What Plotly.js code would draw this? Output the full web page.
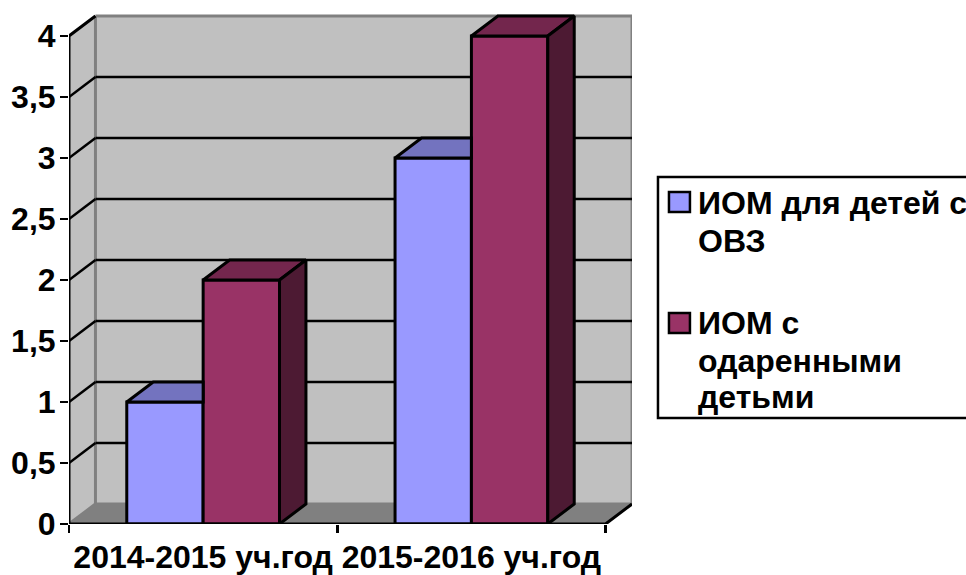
<!DOCTYPE html>
<html>
<head>
<meta charset="utf-8">
<script src="https://cdn.plot.ly/plotly-3.0.1.min.js"></script>
<style>html,body{margin:0;padding:0;background:#fff;overflow:hidden}</style>
</head>
<body>
<div id="chart" style="width:966px;height:575px"></div>
<script>
const categories = ['2014-2015 уч.год', '2015-2016 уч.год'];
const seriesOvz = [1, 3];
const seriesGifted = [2, 4];
const yTicks = [0, 0.5, 1, 1.5, 2, 2.5, 3, 3.5, 4];
const yTickText = ['0', '0,5', '1', '1,5', '2', '2,5', '3', '3,5', '4'];
const legendLines = ['ИОМ для детей с', 'ОВЗ', 'ИОМ с', 'одаренными', 'детьми'];
const legendLineY = [203, 241, 323, 361, 397];

const W = 966, H = 575;
const mL = 68.5, mR = 334, mT = 14, mB = 51;
const FONT = '"Liberation Sans", Arial, sans-serif';
const FS = 32;
const catPx = 268.75, unitPx = 122;
const dx = 26.5 / catPx, dy = 20 / unitPx;
const barW = 76.5 / catPx;
const xMin = -0.5, xEnd = 1.5, yTop = 4;
const xMax = xEnd + dx, yMax = (H - mT - mB) / unitPx;
const idx = categories.map((_, i) => i);

const colors = {
  blue: '#9999FF', blueTop: '#7373BF',
  red: '#993366', redTop: '#73264D', redSide: '#4D1A33',
  wall: '#C0C0C0', floor: '#808080'
};

function poly(xs, ys, fill) {
  return {type: 'scatter', mode: 'lines', x: xs, y: ys, fill: 'toself', fillcolor: fill,
    line: {color: '#000', width: 3, shape: 'linear'}, showlegend: false, hoverinfo: 'skip', cliponaxis: false};
}

const traces = [
  {type: 'bar', name: 'ИОМ для детей с ОВЗ', x: idx, y: seriesOvz, marker: {color: colors.blue, line: {color: '#000', width: 3}}, showlegend: false},
  {type: 'bar', name: 'ИОМ с одаренными детьми', x: idx, y: seriesGifted, marker: {color: colors.red, line: {color: '#000', width: 3}}, showlegend: false}
];

idx.forEach(i => {
  const v1 = seriesOvz[i], v2 = seriesGifted[i];
  const l = i - barW, m = i, r = i + barW;
  traces.push(poly([l, l + dx, m, m, l], [v1, v1 + dy, v1 + dy, v1, v1], colors.blueTop));
  traces.push(poly([m, m + dx, r + dx, r, m], [v2, v2 + dy, v2 + dy, v2, v2], colors.redTop));
  traces.push(poly([r, r + dx, r + dx, r, r], [0, dy, v2 + dy, v2, 0], colors.redSide));
});

// Axis frame: left edge, top-left diagonal, front edge, right diagonal
traces.push({type: 'scatter', mode: 'lines',
  x: [xMin + dx, xMin, xMin, xEnd, xEnd + dx],
  y: [yTop + dy, yTop, 0, 0, dy],
  line: {color: '#000', width: 3}, showlegend: false, hoverinfo: 'skip', cliponaxis: false});

const shapes = [];
function polyPath(pts) { return 'M' + pts.map(p => p[0] + ',' + p[1]).join('L') + 'Z'; }
// back wall
shapes.push({type: 'path', layer: 'below', xref: 'x', yref: 'y',
  path: polyPath([[xMin + dx, dy], [xMax, dy], [xMax, yTop + dy], [xMin + dx, yTop + dy]]),
  fillcolor: colors.wall, line: {width: 0}});
// left wall
shapes.push({type: 'path', layer: 'below', xref: 'x', yref: 'y',
  path: polyPath([[xMin, 0], [xMin + dx, dy], [xMin + dx, yTop + dy], [xMin, yTop]]),
  fillcolor: colors.wall, line: {width: 0}});
// floor
shapes.push({type: 'path', layer: 'below', xref: 'x', yref: 'y',
  path: polyPath([[xMin, 0], [xEnd, 0], [xMax, dy], [xMin + dx, dy]]),
  fillcolor: colors.floor, line: {width: 0}});
// grey wall edges
[[xMin + dx, dy, xMin + dx, yTop + dy], [xMin + dx, yTop + dy, xMax, yTop + dy], [xMax, dy, xMax, yTop + dy], [xMin + dx, dy, xMax, dy], [xMin, 0, xMin + dx, dy]]
  .forEach(s => shapes.push({type: 'line', layer: 'below', xref: 'x', yref: 'y', x0: s[0], y0: s[1], x1: s[2], y1: s[3],
    line: {color: '#808080', width: 3}}));
// gridlines
yTicks.filter(v => v > 0 && v < yTop).forEach(v => {
  shapes.push({type: 'line', layer: 'below', xref: 'x', yref: 'y', x0: xMin + dx, x1: xMax, y0: v + dy, y1: v + dy, line: {color: '#000', width: 2.5}});
  shapes.push({type: 'line', layer: 'below', xref: 'x', yref: 'y', x0: xMin, x1: xMin + dx, y0: v, y1: v + dy, line: {color: '#000', width: 2.5}});
});

// Legend, placed in page pixels
const plotW = W - mL - mR, plotH = H - mT - mB;
const px = x => (x - mL) / plotW;
const py = y => 1 - (y - mT) / plotH;
shapes.push({type: 'rect', layer: 'above', xref: 'paper', yref: 'paper', x0: px(658), x1: px(980), y0: py(177), y1: py(418),
  fillcolor: '#fff', line: {color: '#000', width: 2.5}});
shapes.push({type: 'rect', layer: 'above', xref: 'paper', yref: 'paper', x0: px(669), x1: px(690), y0: py(192), y1: py(212),
  fillcolor: colors.blue, line: {color: '#000', width: 2.5}});
shapes.push({type: 'rect', layer: 'above', xref: 'paper', yref: 'paper', x0: px(669), x1: px(690), y0: py(313), y1: py(333),
  fillcolor: colors.red, line: {color: '#000', width: 2.5}});

const legendFont = {family: FONT, size: FS, color: '#000', weight: 700};
const annotations = legendLines.map((t, i) => ({
  xref: 'paper', yref: 'paper', x: px(696), y: py(legendLineY[i]), xanchor: 'left', yanchor: 'middle', align: 'left',
  showarrow: false, text: t, font: legendFont
}));

const layout = {
  width: W, height: H,
  margin: {l: mL, r: mR, t: mT, b: mB, pad: 0},
  paper_bgcolor: '#fff', plot_bgcolor: 'rgba(0,0,0,0)',
  showlegend: false,
  barmode: 'group', bargap: 1 - 2 * barW, bargroupgap: 0,
  xaxis: {
    range: [xMin, xMax], tickvals: idx, ticktext: categories, ticks: '', showgrid: false, zeroline: false, showline: false,
    tickfont: {family: FONT, size: FS, color: '#000', weight: 700}, tickangle: 0, ticklabelstandoff: 11,
    minor: {tickvals: [-0.5, 0.5, 1.5], ticks: 'outside', ticklen: 8, tickwidth: 2.5, tickcolor: '#000', showgrid: false}
  },
  yaxis: {
    range: [0, yMax], tickvals: yTicks, ticktext: yTickText, ticks: 'outside', ticklen: 8, tickwidth: 2.5, tickcolor: '#000',
    ticklabelstandoff: -2, showgrid: false, zeroline: false, showline: false,
    tickfont: {family: FONT, size: FS, color: '#000', weight: 700}
  },
  shapes: shapes,
  annotations: annotations
};

Plotly.newPlot('chart', traces, layout, {displayModeBar: false, staticPlot: true});
</script>
</body>
</html>
